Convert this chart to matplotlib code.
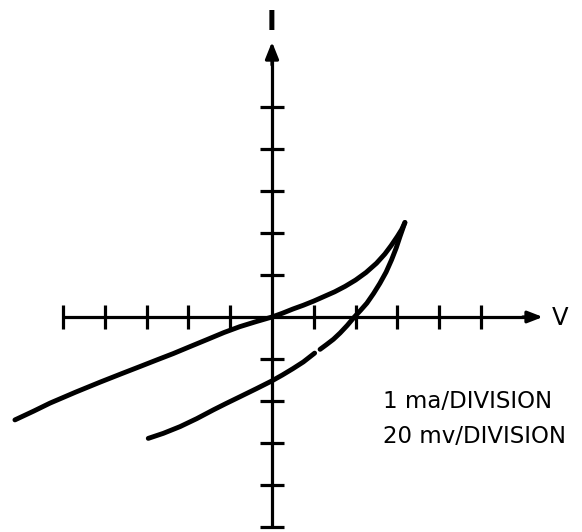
import numpy as np
import matplotlib
matplotlib.use("Agg")
import matplotlib.pyplot as plt

# Oscilloscope trace of a junction I-V loop (1 ma and 20 mv per division)
forward_v = [-6.15, -5.70, -5.31, -4.70, -4.11, -3.60, -3.16, -2.75, -2.36,
             -1.95, -1.56, -1.15, -0.77, -0.38, 0.00,
             0.25, 0.50, 0.75, 1.00, 1.25, 1.50, 1.75, 2.00, 2.25, 2.50,
             2.70, 2.85, 3.00, 3.10, 3.18]
forward_i = [-2.45, -2.24, -2.05, -1.79, -1.55, -1.35, -1.18, -1.02, -0.87,
             -0.70, -0.54, -0.37, -0.23, -0.11, 0.00,
             0.09, 0.19, 0.28, 0.38, 0.49, 0.60, 0.73, 0.88, 1.06, 1.28,
             1.50, 1.70, 1.92, 2.08, 2.25]

return_v = [3.18, 3.12, 3.06, 2.97, 2.86, 2.73, 2.58, 2.43, 2.27, 2.12,
            1.97, 1.80, 1.63, 1.47, 1.30, 1.15,
            1.02, 0.75, 0.50, 0.25, 0.00, -0.38, -0.77, -1.10, -1.40,
            -1.80, -2.20, -2.60, -2.96]
return_i = [2.25, 2.08, 1.91, 1.64, 1.36, 1.07, 0.80, 0.56, 0.33, 0.16,
            0.00, -0.20, -0.38, -0.53, -0.66, -0.77,
            -0.86, -1.07, -1.23, -1.38, -1.52, -1.71, -1.90, -2.06, -2.21,
            -2.42, -2.61, -2.77, -2.89]
trace_break = 16  # short break in the return sweep

h_ticks = [-5, -4, -3, -2, -1, 1, 2, 3, 4, 5]
v_ticks = [-5, -4, -3, -2, -1, 1, 2, 3, 4, 5]

scale_labels = ["1 ma/DIVISION", "20 mv/DIVISION"]

fig = plt.figure(figsize=(5.82, 5.32), dpi=100)
ax = fig.add_axes([0, 0, 1, 1])
ax.set_xlim(-272 / 41.8, 310 / 41.8)
ax.set_ylim(-215 / 42.0, 317 / 42.0)
ax.axis("off")

ink = "#000000"
axis_lw = 2.3
tick_half = 0.29

# axes with arrowheads
ax.plot([-5, 6.2], [0, 0], color=ink, lw=axis_lw, solid_capstyle="butt")
ax.plot([0, 0], [-5, 6.2], color=ink, lw=axis_lw, solid_capstyle="butt")
ax.annotate("", xy=(6.48, 0), xytext=(6.0, 0),
            arrowprops=dict(arrowstyle="-|>,head_length=0.9,head_width=0.35",
                            color=ink, lw=axis_lw, shrinkA=0, shrinkB=0))
ax.annotate("", xy=(0, 6.55), xytext=(0, 6.0),
            arrowprops=dict(arrowstyle="-|>,head_length=1.0,head_width=0.4",
                            color=ink, lw=axis_lw, shrinkA=0, shrinkB=0))

for t in h_ticks:
    ax.plot([t, t], [-tick_half, tick_half], color=ink, lw=axis_lw,
            solid_capstyle="butt")
for t in v_ticks:
    ax.plot([-tick_half, tick_half], [t, t], color=ink, lw=axis_lw,
            solid_capstyle="butt")

# the trace
curve_kw = dict(color=ink, lw=3.5, solid_capstyle="round",
                solid_joinstyle="round")
ax.plot(forward_v, forward_i, **curve_kw)
ax.plot(return_v[:trace_break], return_i[:trace_break], **curve_kw)
ax.plot(return_v[trace_break:], return_i[trace_break:], **curve_kw)

# axis labels
ax.text(-0.02, 6.83, "I", fontsize=19, fontweight="bold", ha="center",
        va="baseline", color=ink, family="DejaVu Sans")
ax.text(6.70, -0.19, "V", fontsize=17.5, ha="left", va="baseline",
        color=ink, family="DejaVu Sans")

for k, lbl in enumerate(scale_labels):
    ax.text(2.66, -2.17 - 0.83 * k, lbl, fontsize=16.5, ha="left",
            va="baseline", color=ink, family="DejaVu Sans")

fig.savefig("out.png", dpi=100)
